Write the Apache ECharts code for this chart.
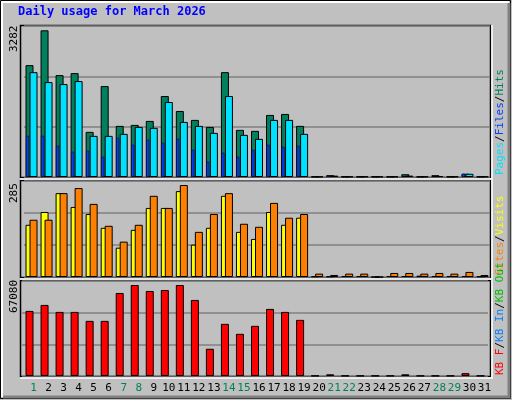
<!DOCTYPE html>
<html><head><meta charset="utf-8">
<script src="https://cdn.jsdelivr.net/npm/echarts@6/dist/echarts.min.js"></script>
<style>html,body{margin:0;padding:0;background:#c0c0c0}#c{width:512px;height:400px}</style>
</head><body><div id="c"></div>
<script>
const days = Array.from({length:31},(_,i)=>String(i+1));
const weekend = [1,7,8,14,15,21,22,28,29];
const hits  = [2431,3188,2214,2258,981,1976,1111,1132,1219,1760,1435,1241,1089,2279,1024,1003,1349,1370,1111, 10,40,10,10,10,10,60,10,40,10,70,10];
const files = [2279,2063,2020,2085,894,894,938,1089,1068,1630,1197,1111,959,1760,916,829,1241,1241,938, 10,30,10,10,10,10,30,10,20,10,70,10];
const pages = [894,894,678,548,570,440,851,700,808,743,830,591,332,527,440,591,700,656,678, 5,30,5,5,5,5,20,5,15,5,70,5];
const visits= [155,193,249,208,187,146,87,140,205,205,255,96,146,241,134,113,193,155,176, 2,2,3,3,0,3,3,4,3,3,3,2];
const sites = [170,170,249,264,217,152,105,155,241,205,273,134,187,249,158,149,220,176,187, 10,6,10,10,0,12,12,10,12,10,15,6];
const kbytes= [45962,50183,45259,45259,38927,38927,58625,64253,60032,60736,64253,53700,19229,36817,29782,35410,47369,45259,39631, 200,1200,200,200,200,200,1200,200,200,200,2000,200];
const maxHits=3282, maxSites=285, maxKB=67080;

const chart = echarts.init(document.getElementById('c'));
const F='DejaVu Sans Mono';
const panels=[{top:26,h:151},{top:181,h:96},{top:281,h:95}];
const grids=[
  {left:24,right:22,top:26,height:151},
  {left:20,right:26,top:26,height:151},
  {left:24,right:22,top:181,height:96},
  {left:22,right:24,top:281,height:95},
  {left:26,right:20,top:281,height:95}
];
const maxes=[maxHits,maxHits,maxSites,maxKB,maxKB];
const xAxis=grids.map((g,i)=>({type:'category',gridIndex:i,data:days,
  axisLine:{show:false},axisTick:{show:false},
  axisLabel:{show:i===4,margin:7,fontFamily:F,fontSize:11,interval:0,
    formatter:v=>weekend.includes(+v)?'{g|'+v+'}':'{k|'+v+'}',
    rich:{g:{color:'#00805c',fontFamily:F,fontSize:11},k:{color:'#000',fontFamily:F,fontSize:11}}}}));
const yAxis=grids.map((g,i)=>({type:'value',gridIndex:i,min:0,max:maxes[i],interval:maxes[i]/3,
  axisLabel:{show:false},axisLine:{show:false},axisTick:{show:false},
  splitLine:{show:(i===0||i===2||i===3),lineStyle:{color:'#808080',width:1.5}}}));
const bs={borderColor:'#000',borderWidth:1};
const series=[
  {type:'bar',xAxisIndex:0,yAxisIndex:0,data:hits,barWidth:8,barGap:'-50%',itemStyle:{color:'#00805c',...bs}},
  {type:'bar',xAxisIndex:0,yAxisIndex:0,data:files,barWidth:8,barGap:'-50%',itemStyle:{color:'#00e0ff',...bs}},
  {type:'bar',xAxisIndex:1,yAxisIndex:1,data:pages,barWidth:3,itemStyle:{color:'#0040ff',borderColor:'#000',borderWidth:0.5}},
  {type:'bar',xAxisIndex:2,yAxisIndex:2,data:visits,barWidth:8,barGap:'-50%',itemStyle:{color:'#ffff00',...bs}},
  {type:'bar',xAxisIndex:2,yAxisIndex:2,data:sites,barWidth:8,barGap:'-50%',itemStyle:{color:'#ff8000',...bs}},
  {type:'bar',xAxisIndex:3,yAxisIndex:3,data:kbytes,barWidth:8,itemStyle:{color:'#ff0000',...bs}}
];
const gr=[
  {type:'rect',z:-10,shape:{x:0.5,y:0.5,width:510,height:398},style:{fill:'#c0c0c0',stroke:'#000',lineWidth:1}},
  {type:'polyline',z:-9,shape:{points:[[2,397],[2,2],[509,2]]},style:{stroke:'#fff',lineWidth:2,fill:null}},
  {type:'polyline',z:-9,shape:{points:[[3,397],[509,397],[509,3]]},style:{stroke:'#808080',lineWidth:3,fill:null}},
  {type:'text',left:18,top:6,style:{text:'Daily usage for March 2026',fill:'#0000ff',font:'bold 12px '+F}}
];
panels.forEach(p=>{
  gr.push({type:'rect',z:-5,shape:{x:20.5,y:p.top-0.5,width:470,height:p.h+1},style:{fill:'#c0c0c0',stroke:'#000',lineWidth:1.5}});
  gr.push({type:'polyline',z:100,shape:{points:[[20,p.top+p.h+2],[492,p.top+p.h+2],[492,p.top-1]]},style:{stroke:'#fff',lineWidth:1.5,fill:null}});
});
function vtext(x,yBottom,rich,str,size){
  return {type:'text',x:x,y:yBottom,rotation:Math.PI/2,style:{text:str,rich:rich,font:size+'px '+F,verticalAlign:'middle',align:'left'}};
}
const rs=(c)=>({fill:c,font:'11px '+F});
gr.push(vtext(500,175,{a:rs('#00e0ff'),b:rs('#0040ff'),c:rs('#00805c'),s:rs('#000')},'{a|Pages}{s|/}{b|Files}{s|/}{c|Hits}',11));
gr.push(vtext(500,275,{a:rs('#ff8000'),b:rs('#ffff00'),s:rs('#000')},'{a|Sites}{s|/}{b|Visits}',11));
gr.push(vtext(500,375,{a:rs('#ff0000'),b:rs('#0080ff'),c:rs('#00c000'),s:rs('#000')},'{a|KB F}{s|/}{b|KB In}{s|/}{c|KB Out}',11));
[[maxHits,52],[maxSites,203],[maxKB,313]].forEach(([v,y])=>{
  gr.push({type:'text',x:14,y:y,rotation:Math.PI/2,style:{text:String(v),font:'11px '+F,fill:'#000',verticalAlign:'middle',align:'left'}});
});
chart.setOption({animation:false,backgroundColor:'#c0c0c0',grid:grids,xAxis,yAxis,series,graphic:gr});
</script></body></html>
